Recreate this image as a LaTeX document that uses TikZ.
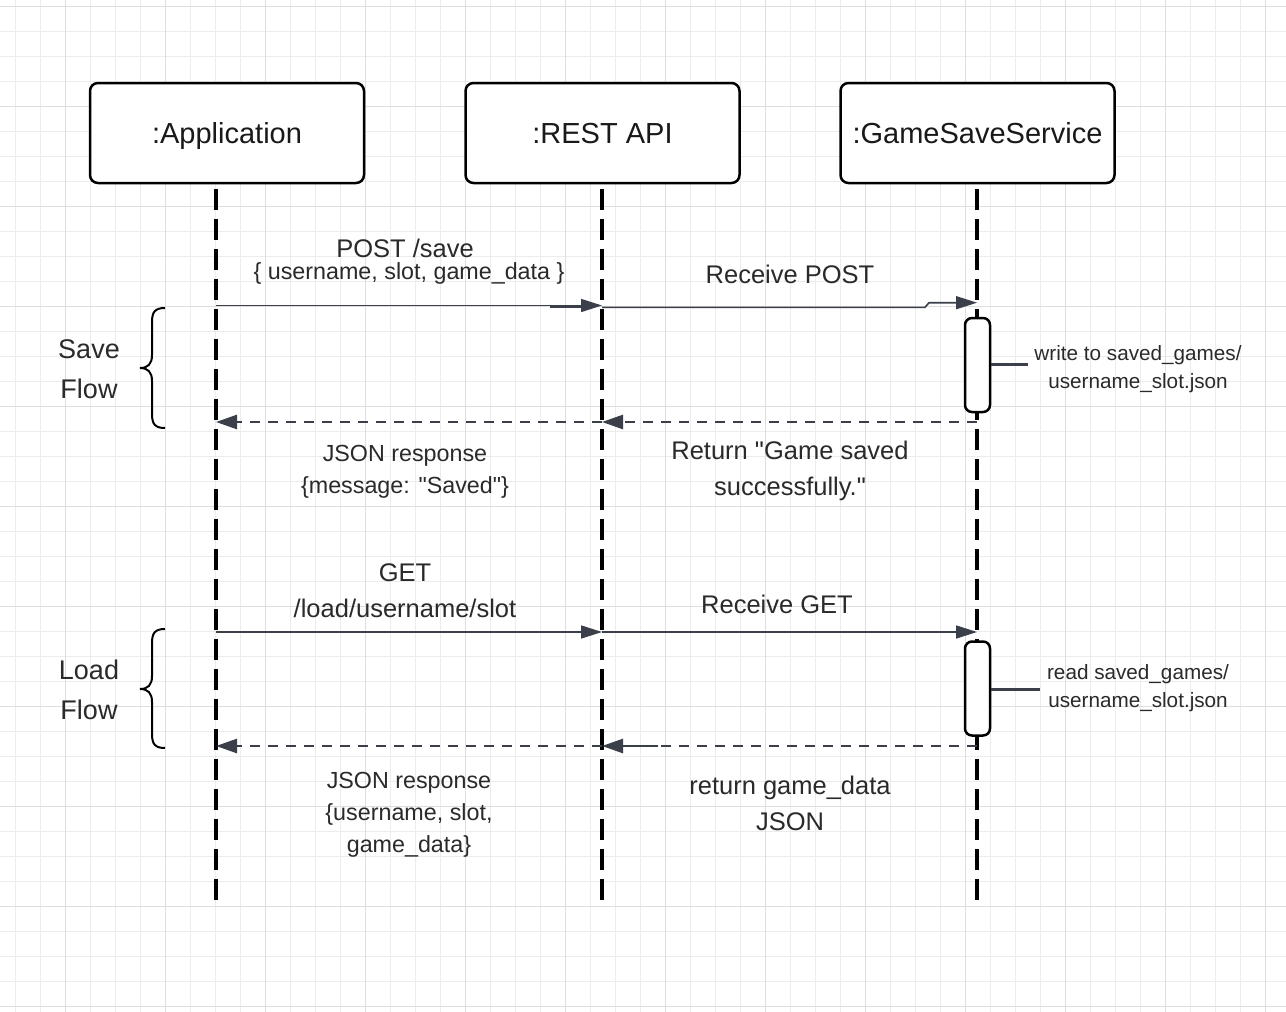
\documentclass[tikz,border=0pt]{standalone}
\usepackage{fontspec}
\setmainfont{Liberation Sans}[Ligatures=TeXOff]
\usetikzlibrary{arrows.meta}
\definecolor{ink}{HTML}{3A3F4A}
\definecolor{gridminor}{HTML}{ECECEC}
\definecolor{gridmajor}{HTML}{DEDEDE}
\definecolor{txt}{HTML}{2A2A2A}
\tikzset{
  part/.style={draw=black, line width=2.5pt, rounded corners=8pt, fill=white,
    minimum width=274pt, minimum height=100pt, text=black!90,
    text height=26pt, text depth=6pt,
    font=\fontsize{29}{34}\selectfont},
  life/.style={draw=black, line width=3.2pt, dash pattern=on 21pt off 9pt},
  msg/.style={draw=ink, line width=1.6pt, -{Triangle[length=21pt,width=13pt]}},
  ret/.style={draw=ink, line width=2.6pt, dash pattern=on 10pt off 8pt, -{Triangle[length=21pt,width=14pt]}},
  act/.style={draw=black, line width=2.5pt, rounded corners=7pt, fill=white,
    minimum width=25pt, minimum height=94pt, inner sep=0pt},
  notel/.style={draw=ink, line width=3pt},
  brace/.style={draw=black, line width=2pt},
  lbl/.style={text=txt, align=center, inner sep=0pt},
  big/.style={lbl, font=\fontsize{25.5}{36}\selectfont},
  mid/.style={lbl, font=\fontsize{23.3}{32}\selectfont},
  small/.style={lbl, font=\fontsize{20.7}{28}\selectfont},
  flow/.style={lbl, font=\fontsize{27}{40}\selectfont},
}
\begin{document}
\begin{tikzpicture}[x=1pt,y=-1pt]
\useasboundingbox (0,0) rectangle (1286,1012);
\fill[white] (0,0) rectangle (1286,1012);
% grid
\foreach \i in {0,...,51} \draw[gridminor, line width=1pt] ({15.7+25*\i},0) -- ({15.7+25*\i},1012);
\foreach \i in {0,...,40} \draw[gridminor, line width=1pt] (0,{6.7+25*\i}) -- (1286,{6.7+25*\i});
\foreach \i in {0,...,12} \draw[gridmajor, line width=1.2pt] ({65.7+100*\i},0) -- ({65.7+100*\i},1012);
\foreach \i in {0,...,10} \draw[gridmajor, line width=1.2pt] (0,{6.7+100*\i}) -- (1286,{6.7+100*\i});

% participants
\node[part] (app) at (227,133) {:Application};
\node[part] (api) at (602.5,133) {:REST API};
\node[part] (gss) at (977.5,133) {:GameSaveService};

% lifelines
\coordinate (appT) at (216,189); \coordinate (appB) at (216,906);
\coordinate (apiT) at (602,189); \coordinate (apiB) at (602,906);
\coordinate (gssT) at (977,189); \coordinate (gssB) at (977,906);
\draw[life] (appT) -- (appB);
\draw[life] (apiT) -- (apiB);
\draw[life] (gssT) -- (gssB);

% activations
\node[act] (act1) at (977.5,365) {};
\node[act] (act2) at (977.5,688.5) {};

% save flow messages
\coordinate (p1) at (216,305.5); \coordinate (p2) at (602,305.5);
\draw[msg] (p1) -- (p2);
\draw[ink, line width=3pt] (550,306.3) -- (585,306.3);
\coordinate (r1) at (602,307.3); \coordinate (r2) at (977,302.7);
\coordinate (j1) at (925,307.3); \coordinate (j2) at (929,302.7);
\draw[msg] (r1) -- (j1) -- (j2) -- (r2);
\coordinate (s1) at (977,422); \coordinate (s2) at (602,422);
\draw[ret] (s1) -- (s2);
\coordinate (s3) at (602,422); \coordinate (s4) at (216,422);
\draw[ret] (s3) -- (s4);
\coordinate (n1) at (1028,364);
\draw[notel] (act1.east |- n1) -- (n1);

% load flow messages
\coordinate (g1) at (216,632); \coordinate (g2) at (602,632);
\draw[msg] (g1) -- (g2);
\coordinate (g3) at (602,632); \coordinate (g4) at (977,632);
\draw[msg] (g3) -- (g4);
\coordinate (l1) at (977,746); \coordinate (l2) at (602,746);
\draw[ret] (l1) -- (l2);
\coordinate (l2s) at (658,746);
\draw[ink, line width=2.6pt] (l2s) -- (620,746);
\coordinate (l3) at (602,746); \coordinate (l4) at (216,746);
\draw[ret] (l3) -- (l4);
\coordinate (n2) at (1040,689);
\draw[notel] (act2.east |- n2) -- (n2);

% labels
\node[big] (lpost) at (405,248) {POST /save};
\node[mid] (lpostb) at (409,273) {\{ username, slot, game\_data \}};
\node[big] (lrecp) at (790,274) {Receive POST};
\node[small] (lwrite) at (1138,369) {write to saved\_games/\\username\_slot.json};
\node[mid] (ljson1) at (405,472) {JSON response\\\{message: "Saved"\}};
\node[big] (lret1) at (790,471) {Return "Game saved\\successfully."};
\node[big] (lget) at (405,591) {GET\\/load/username/slot};
\node[big] (lrecg) at (777,604) {Receive GET};
\node[small] (lread) at (1138,688) {read saved\_games/\\username\_slot.json};
\node[mid] (ljson2) at (409,815) {JSON response\\\{username, slot,\\game\_data\}};
\node[big] (lret2) at (790,803) {return game\_data\\JSON};

% braces
\draw[brace] (165,308) .. controls (155,308) and (152,312) .. (152,322) -- (152,355)
  .. controls (152,364) and (148,368) .. (140,368)
  .. controls (148,368) and (152,372) .. (152,381) -- (152,414)
  .. controls (152,424) and (155,428) .. (165,428);
\draw[brace] (165,629) .. controls (155,629) and (152,633) .. (152,643) -- (152,676)
  .. controls (152,685) and (148,689) .. (140,689)
  .. controls (148,689) and (152,693) .. (152,702) -- (152,734)
  .. controls (152,744) and (155,748) .. (165,748);
\node[flow] (lsave) at (89,369) {Save\\Flow};
\node[flow] (lload) at (89,690) {Load\\Flow};
\end{tikzpicture}
\end{document}
